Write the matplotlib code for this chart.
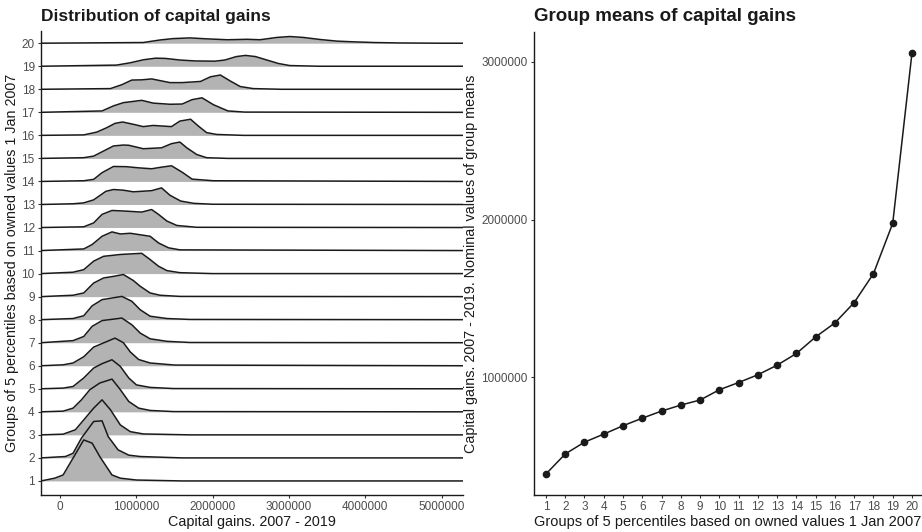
import numpy as np
import matplotlib.pyplot as plt

plt.rcParams['font.family'] = ['Liberation Sans', 'DejaVu Sans']

# Right panel: group means of capital gains
groups = np.arange(1, 21)
group_means = [388000, 515000, 590000, 641000, 694000, 742000, 787000, 825000,
               857000, 922000, 968000, 1017000, 1078000, 1152000, 1257000,
               1346000, 1475000, 1658000, 1977000, 3057000]

# Left panel: density outlines per group as (gain in millions, scaled density)
gain_lo, gain_hi = -0.25, 5.28
dens_01 = [(-0.07, 0.12), (0.04, 0.26), (0.31, 1.78), (0.42, 1.64), (0.52, 1.06),
           (0.68, 0.26), (0.79, 0.12), (1.0, 0.04), (1.6, 0.0)]
dens_02 = [(0.07, 0.06), (0.17, 0.2), (0.28, 0.86), (0.44, 1.58), (0.55, 1.61),
           (0.63, 0.93), (0.76, 0.35), (0.9, 0.12), (1.05, 0.06), (1.6, 0.0)]
dens_03 = [(0.04, 0.03), (0.2, 0.22), (0.31, 0.65), (0.44, 1.16), (0.55, 1.52),
           (0.66, 1.09), (0.79, 0.43), (0.92, 0.14), (1.09, 0.04), (1.7, 0.0)]
dens_04 = [(0.04, 0.03), (0.17, 0.16), (0.28, 0.52), (0.39, 0.96), (0.52, 1.25),
           (0.68, 1.42), (0.79, 0.96), (0.9, 0.45), (1.03, 0.16), (1.18, 0.06),
           (1.49, 0.01)]
dens_05 = [(0.04, 0.03), (0.17, 0.1), (0.31, 0.47), (0.44, 0.9), (0.55, 1.09),
           (0.68, 1.26), (0.79, 0.97), (0.9, 0.47), (1.0, 0.17), (1.18, 0.06),
           (1.49, 0.01)]
dens_06 = [(0.04, 0.04), (0.17, 0.12), (0.31, 0.39), (0.44, 0.81), (0.57, 0.99),
           (0.72, 1.2), (0.83, 1.0), (0.92, 0.6), (1.03, 0.27), (1.18, 0.12),
           (1.5, 0.03)]
dens_07 = [(0.17, 0.09), (0.31, 0.27), (0.42, 0.71), (0.55, 0.96), (0.81, 1.07),
           (0.94, 0.78), (1.05, 0.42), (1.18, 0.17), (1.4, 0.06), (1.7, 0.01)]
dens_08 = [(0.17, 0.05), (0.31, 0.17), (0.42, 0.6), (0.55, 0.87), (0.68, 0.94),
           (0.81, 1.01), (0.94, 0.8), (1.05, 0.43), (1.18, 0.15), (1.4, 0.05),
           (1.7, 0.01)]
dens_09 = [(0.17, 0.06), (0.31, 0.16), (0.44, 0.59), (0.57, 0.81), (0.7, 0.88),
           (0.83, 0.96), (0.96, 0.7), (1.05, 0.45), (1.18, 0.16), (1.31, 0.06),
           (1.57, 0.01)]
dens_10 = [(0.17, 0.06), (0.31, 0.17), (0.44, 0.54), (0.57, 0.75), (0.79, 0.83),
           (1.07, 0.88), (1.18, 0.61), (1.29, 0.32), (1.4, 0.13), (1.57, 0.04),
           (2.0, 0.0)]
dens_11 = [(0.31, 0.07), (0.42, 0.26), (0.55, 0.62), (0.68, 0.81), (0.79, 0.72),
           (0.92, 0.75), (1.18, 0.62), (1.29, 0.33), (1.42, 0.12), (1.57, 0.03)]
dens_12 = [(0.31, 0.03), (0.44, 0.2), (0.55, 0.57), (0.68, 0.74), (0.87, 0.71),
           (1.07, 0.67), (1.2, 0.78), (1.29, 0.57), (1.4, 0.28), (1.53, 0.09),
           (1.79, 0.01)]
dens_13 = [(0.17, 0.03), (0.31, 0.07), (0.44, 0.2), (0.6, 0.57), (0.7, 0.65),
           (0.83, 0.62), (0.96, 0.55), (1.2, 0.6), (1.33, 0.72), (1.44, 0.4),
           (1.58, 0.15), (1.75, 0.05), (2.0, 0.01)]
dens_14 = [(0.31, 0.03), (0.44, 0.09), (0.55, 0.38), (0.7, 0.65), (0.87, 0.64),
           (1.03, 0.59), (1.2, 0.55), (1.33, 0.62), (1.46, 0.68), (1.6, 0.4),
           (1.73, 0.1), (2.01, 0.03)]
dens_15 = [(0.31, 0.03), (0.44, 0.1), (0.57, 0.32), (0.7, 0.54), (0.83, 0.58),
           (0.9, 0.57), (1.09, 0.42), (1.33, 0.46), (1.46, 0.64), (1.57, 0.71),
           (1.66, 0.46), (1.79, 0.17), (1.92, 0.03), (2.2, 0.0)]
dens_16 = [(0.31, 0.02), (0.48, 0.14), (0.61, 0.33), (0.72, 0.52), (0.82, 0.58),
           (0.96, 0.48), (1.09, 0.38), (1.22, 0.43), (1.46, 0.38), (1.57, 0.62),
           (1.71, 0.7), (1.81, 0.41), (1.92, 0.12), (2.05, 0.04), (2.4, 0.0)]
dens_17 = [(0.55, 0.06), (0.7, 0.28), (0.83, 0.42), (1.07, 0.52), (1.22, 0.4),
           (1.44, 0.35), (1.6, 0.36), (1.73, 0.55), (1.86, 0.63), (2.01, 0.33),
           (2.2, 0.06), (2.42, 0.01)]
dens_18 = [(0.66, 0.03), (0.81, 0.2), (0.94, 0.4), (1.07, 0.41), (1.2, 0.45),
           (1.44, 0.29), (1.6, 0.29), (1.84, 0.34), (1.97, 0.54), (2.1, 0.62),
           (2.23, 0.36), (2.36, 0.12), (2.53, 0.03), (2.9, 0.0)]
dens_19 = [(0.74, 0.05), (0.92, 0.15), (1.09, 0.28), (1.25, 0.35), (1.38, 0.34),
           (1.57, 0.27), (1.77, 0.23), (2.03, 0.22), (2.16, 0.27), (2.31, 0.42),
           (2.43, 0.47), (2.56, 0.42), (2.71, 0.27), (2.86, 0.12), (3.01, 0.03),
           (3.4, 0.0)]
dens_20 = [(1.09, 0.03), (1.31, 0.14), (1.48, 0.2), (1.7, 0.23), (1.92, 0.19),
           (2.19, 0.15), (2.45, 0.17), (2.62, 0.15), (2.84, 0.25), (3.01, 0.29),
           (3.19, 0.25), (3.41, 0.16), (3.63, 0.09), (3.84, 0.06), (4.11, 0.03),
           (4.46, 0.01), (5.0, 0.0)]

ridges = [dens_01, dens_02, dens_03, dens_04, dens_05, dens_06, dens_07, dens_08,
          dens_09, dens_10, dens_11, dens_12, dens_13, dens_14, dens_15, dens_16,
          dens_17, dens_18, dens_19, dens_20]

gain_ticks = [0, 1000000, 2000000, 3000000, 4000000, 5000000]
mean_ticks = [1000000, 2000000, 3000000]

fill_col = '#b3b3b3'
line_col = '#1a1a1a'
tick_col = '#4d4d4d'

fig = plt.figure(figsize=(9.22, 5.32), dpi=100)
W, H = 922, 532

# ---- left: ridgeline densities
ax1 = fig.add_axes([41 / W, (H - 495) / H, 422 / W, 464 / H])
for k in range(20, 0, -1):
    pts = ridges[k - 1]
    gx = np.array([gain_lo] + [p[0] for p in pts] + [gain_hi]) * 1e6
    gh = np.array([0.0] + [p[1] for p in pts] + [0.0])
    z = 2 + (20 - k)
    ax1.fill_between(gx, k, k + gh, color=fill_col, lw=0, zorder=z)
    ax1.plot(gx, k + gh, color=line_col, lw=1.1, zorder=z + 0.5,
             solid_joinstyle='round')

ax1.set_xlim(gain_lo * 1e6, gain_hi * 1e6)
ax1.set_ylim(0.39, 20.53)
ax1.set_yticks(groups)
ax1.set_yticklabels([str(g) for g in groups])
ax1.set_xticks(gain_ticks)
ax1.set_xticklabels([str(t) for t in gain_ticks])
ax1.set_title('Distribution of capital gains', loc='left', fontsize=12.5,
              fontweight='bold', pad=7, color='#1a1a1a')
ax1.set_xlabel('Capital gains. 2007 - 2019', fontsize=10.4, color='#1a1a1a',
               labelpad=1)
ax1.set_ylabel('Groups of 5 percentiles based on owned values 1 Jan 2007',
               fontsize=10.3, color='#1a1a1a')
ax1.yaxis.set_label_coords(-0.052, 0.5)

# ---- right: group means
ax2 = fig.add_axes([534 / W, (H - 495) / H, 388 / W, 463 / H])
ax2.plot(groups, group_means, color=line_col, lw=1.1, marker='o', ms=4.5,
         zorder=3)
ax2.set_xlim(0.38, 20.52)
ax2.set_ylim(255000, 3190000)
ax2.set_xticks(groups)
ax2.set_xticklabels([str(g) for g in groups])
ax2.set_yticks(mean_ticks)
ax2.set_yticklabels([str(t) for t in mean_ticks])
ax2.set_title('Group means of capital gains', loc='left', fontsize=13.5,
              fontweight='bold', pad=8, color='#1a1a1a')
ax2.set_xlabel('Groups of 5 percentiles based on owned values 1 Jan 2007',
               fontsize=10.5, color='#1a1a1a', labelpad=1)
ax2.set_ylabel('Capital gains. 2007 - 2019. Nominal values of group means',
               fontsize=10.4, color='#1a1a1a')
ax2.yaxis.set_label_coords(-0.144, 0.5)

for ax in (ax1, ax2):
    for s in ('top', 'right'):
        ax.spines[s].set_visible(False)
    for s in ('left', 'bottom'):
        ax.spines[s].set_linewidth(1.0)
        ax.spines[s].set_color('#1a1a1a')
    ax.tick_params(length=2.5, width=0.8, color='#333333', labelcolor=tick_col,
                   labelsize=8.5, pad=2)

fig.savefig('out.png', dpi=100)
